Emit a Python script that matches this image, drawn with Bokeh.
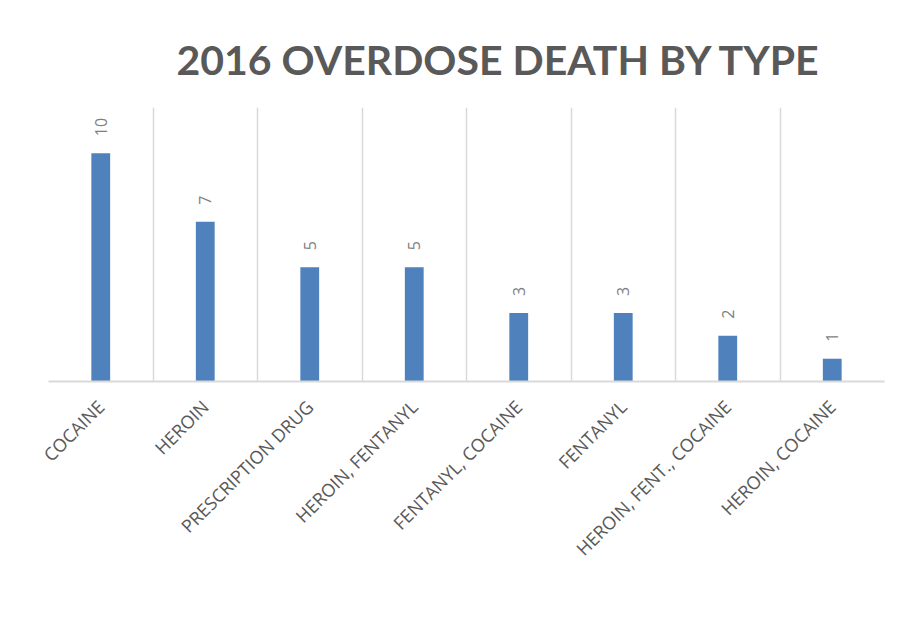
import math
from bokeh.plotting import figure
from bokeh.models import Range1d, FixedTicker, ColumnDataSource
from bokeh.core.properties import value
from bokeh.embed import file_html
from bokeh.resources import INLINE

# ---- data ----
categories = ["COCAINE", "HEROIN", "PRESCRIPTION DRUG", "HEROIN, FENTANYL",
              "FENTANYL, COCAINE", "FENTANYL", "HEROIN, FENT., COCAINE", "HEROIN, COCAINE"]
deaths = [10, 7, 5, 5, 3, 3, 2, 1]
title_text = "2016 OVERDOSE DEATH BY TYPE"

xs = [i + 0.5 for i in range(len(categories))]
src = ColumnDataSource(dict(x=xs, y=deaths, label=[str(d) for d in deaths]))

p = figure(width=897, height=618, output_backend="svg", toolbar_location=None,
           x_range=Range1d(0, len(categories)), y_range=Range1d(0, 12),
           min_border_left=48, min_border_right=13, min_border_top=107,
           min_border_bottom=237, background_fill_color="white",
           border_fill_color="white")

p.vbar(x="x", top="y", width=0.18, source=src, fill_color="#4F81BD",
       line_color=None)
p.text(x="x", y="y", text="label", source=src, angle=math.pi / 2,
       text_align="left", text_baseline="middle", y_offset=-17,
       text_color="#7f7f7f", text_font_size="16px", text_font=value("Open Sans"))

p.yaxis.visible = False
p.ygrid.visible = False
p.xgrid.ticker = FixedTicker(ticks=list(range(len(categories) + 1)))
p.xgrid.grid_line_color = "#d9d9d9"
p.xgrid.grid_line_width = 1.5

ax = p.xaxis[0]
ax.ticker = FixedTicker(ticks=xs)
ax.major_label_overrides = {x: c for x, c in zip(xs, categories)}
ax.major_label_orientation = math.pi / 4
ax.major_tick_line_color = None
ax.minor_tick_line_color = None
ax.axis_line_color = "#d9d9d9"
ax.axis_line_width = 2
ax.major_label_text_font = "Open Sans"
ax.major_label_text_font_size = "18px"
ax.major_label_text_color = "#595959"
ax.major_label_standoff = 16

p.outline_line_color = None

p.title.text = title_text
p.title.text_font = "Lato"
p.title.text_font_style = "bold"
p.title.text_font_size = "41px"
p.title.text_color = "#595959"
p.title.align = "left"
p.title.offset = 128
p.title.standoff = 47

open("out.html", "w").write(file_html(p, INLINE))
